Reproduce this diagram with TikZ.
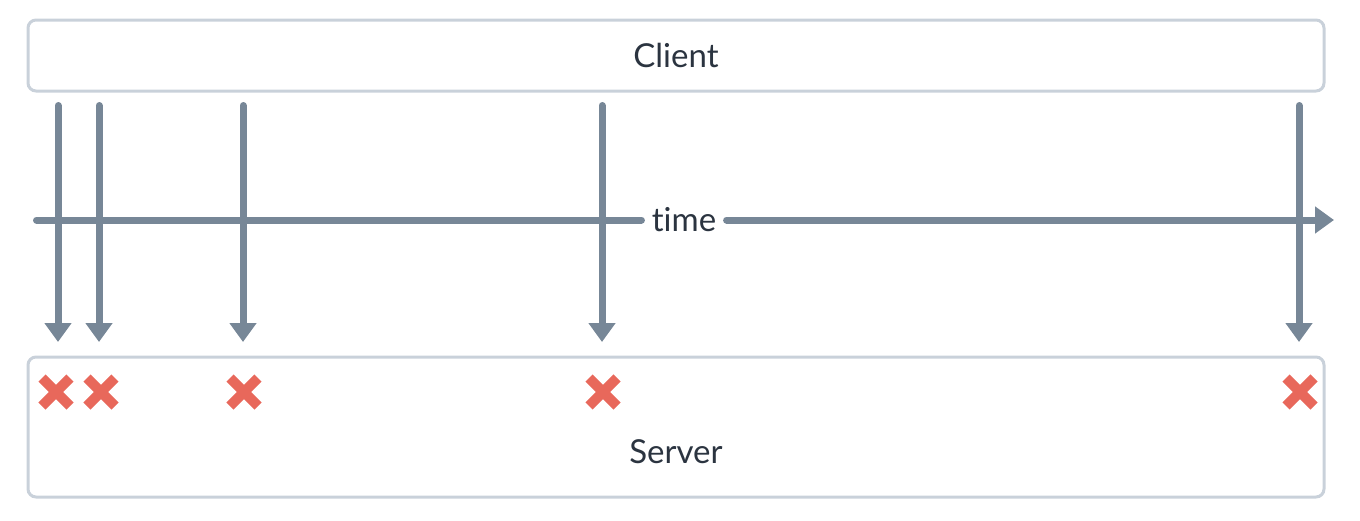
\documentclass[tikz,border=0pt]{standalone}
\usepackage{fontspec}
\setmainfont[Ligatures=NoCommon]{Lato}
\usepackage{tikz}
\usetikzlibrary{arrows.meta}

\definecolor{boxgray}{HTML}{C9D1DA}
\definecolor{arrowgray}{HTML}{778797}
\definecolor{crossred}{HTML}{E8685B}
\definecolor{textdark}{HTML}{2B3440}

\tikzset{
  box/.style={draw=boxgray, line width=1.5pt, rounded corners=4pt,
    minimum width=648pt, inner sep=0pt},
  boxtext/.style={text=textdark, font=\fontsize{16.5}{19}\selectfont},
  request/.style={arrowgray, line width=3.5pt, line cap=round,
    -{Triangle[width=13pt,length=9.5pt]}},
  failmark/.style={crossred, line width=5pt},
}

\begin{document}
\begin{tikzpicture}[x=0.5pt,y=-0.5pt]
\useasboundingbox (0,0) rectangle (1360,520);
% boxes
\node[box, boxtext, minimum height=35.5pt] (client) at (676,55.5) {Client};
\node[box, minimum height=70pt] (server) at (676,427) {};
\node[boxtext] (servertext) at (676,452) {Server};
% time axis
\coordinate (axisstart) at (36.5,220);
\coordinate (axisend) at (1334,220);
\node[boxtext, inner xsep=5pt, inner ysep=0pt] (time) at (684,220) {time};
\draw[arrowgray, line width=3.5pt, line cap=round] (axisstart) -- (time.west);
\draw[request] (time.east) -- (axisend);
% requests and failures
\foreach \i/\x/\c in {1/58/56, 2/99/101, 3/243/244, 4/602/603, 5/1299/1300} {
  \coordinate (send\i) at (\x,105.5);
  \coordinate (recv\i) at (\x,342);
  \draw[request] (send\i) -- (recv\i);
  \coordinate (fail\i) at (\c,392);
  \draw[failmark] ([shift={(-14,-14)}]fail\i) -- ([shift={(14,14)}]fail\i);
  \draw[failmark] ([shift={(-14,14)}]fail\i) -- ([shift={(14,-14)}]fail\i);
}
\end{tikzpicture}
\end{document}
